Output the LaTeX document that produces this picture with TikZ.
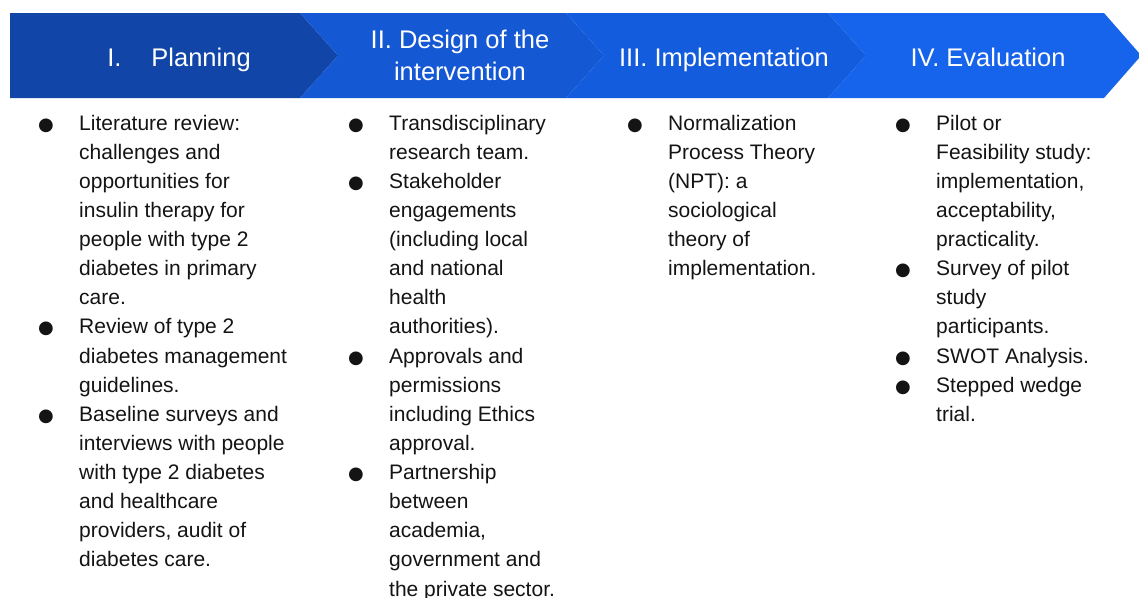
\documentclass[tikz,border=0pt]{standalone}
\usepackage{fontspec}
\setmainfont{Liberation Sans}
\newfontfamily\symfont{DejaVu Sans}
\definecolor{cA}{RGB}{17,70,168}
\definecolor{cB}{RGB}{21,88,212}
\definecolor{cC}{RGB}{20,92,222}
\definecolor{cD}{RGB}{22,100,235}
\definecolor{txt}{RGB}{20,20,20}
\newcommand{\bul}{\makebox[41pt][l]{\symfont\fontsize{18}{18}\selectfont ●}}
\newcommand{\nl}{\hfil\break}
\newcommand{\itm}[1]{\par\noindent\hangindent=41pt\hangafter=1\bul #1\par}
\newenvironment{col}{\begin{minipage}[t]{290pt}\fontsize{21}{29.13}\selectfont\parskip=0pt\parindent=0pt}{\end{minipage}}
\begin{document}
\begin{tikzpicture}[x=1pt,y=-1pt,
  hdr/.style={text=white,font=\fontsize{25.5}{32}\selectfont,anchor=base,inner sep=0pt},
  body/.style={text=txt,anchor=base west,inner sep=0pt}]
\useasboundingbox (0,0) rectangle (1139,597);
\fill[white] (0,0) rectangle (1139,597);
% chevrons
\fill[cA] (10,13) -- (300,13) -- (338,55.5) -- (300,98) -- (10,98) -- cycle;
\fill[cB] (300,13) -- (566,13) -- (604,55.5) -- (566,98) -- (300,98) -- (338,55.5) -- cycle;
\fill[cC] (566,13) -- (828,13) -- (866,55.5) -- (828,98) -- (566,98) -- (604,55.5) -- cycle;
\fill[cD] (828,13) -- (1104,13) -- (1139,53) -- (1139,58) -- (1104,98) -- (828,98) -- (866,55.5) -- cycle;
% headers
\node[hdr] (h1) at (179,66.5) {I.\hspace{30pt}Planning};
\node[hdr] (h2) at (460,48.5) {\parbox[t]{240pt}{\centering II. Design of the\\intervention}};
\node[hdr] (h3) at (724,66.5) {III. Implementation};
\node[hdr] (h4) at (988,66.5) {IV. Evaluation};
% columns
\node[body] (c1) at (38,130) {\begin{col}
\itm{Literature review:\nl challenges and\nl opportunities for\nl insulin therapy for\nl people with type 2\nl diabetes in primary\nl care.}
\itm{Review of type 2\nl diabetes management\nl guidelines.}
\itm{Baseline surveys and\nl interviews with people\nl with type 2 diabetes\nl and healthcare\nl providers, audit of\nl diabetes care.}
\end{col}};
\node[body] (c2) at (348,130) {\begin{col}
\itm{Transdisciplinary\nl research team.}
\itm{Stakeholder\nl engagements\nl (including local\nl and national\nl health\nl authorities).}
\itm{Approvals and\nl permissions\nl including Ethics\nl approval.}
\itm{Partnership\nl between\nl academia,\nl government and\nl the private sector.}
\end{col}};
\node[body] (c3) at (627,130) {\begin{col}
\itm{Normalization\nl Process Theory\nl (NPT): a\nl sociological\nl theory of\nl implementation.}
\end{col}};
\node[body] (c4) at (895,130) {\begin{col}
\itm{Pilot or\nl Feasibility study:\nl implementation,\nl acceptability,\nl practicality.}
\itm{Survey of pilot\nl study\nl participants.}
\itm{SWOT Analysis.}
\itm{Stepped wedge\nl trial.}
\end{col}};
\end{tikzpicture}
\end{document}
